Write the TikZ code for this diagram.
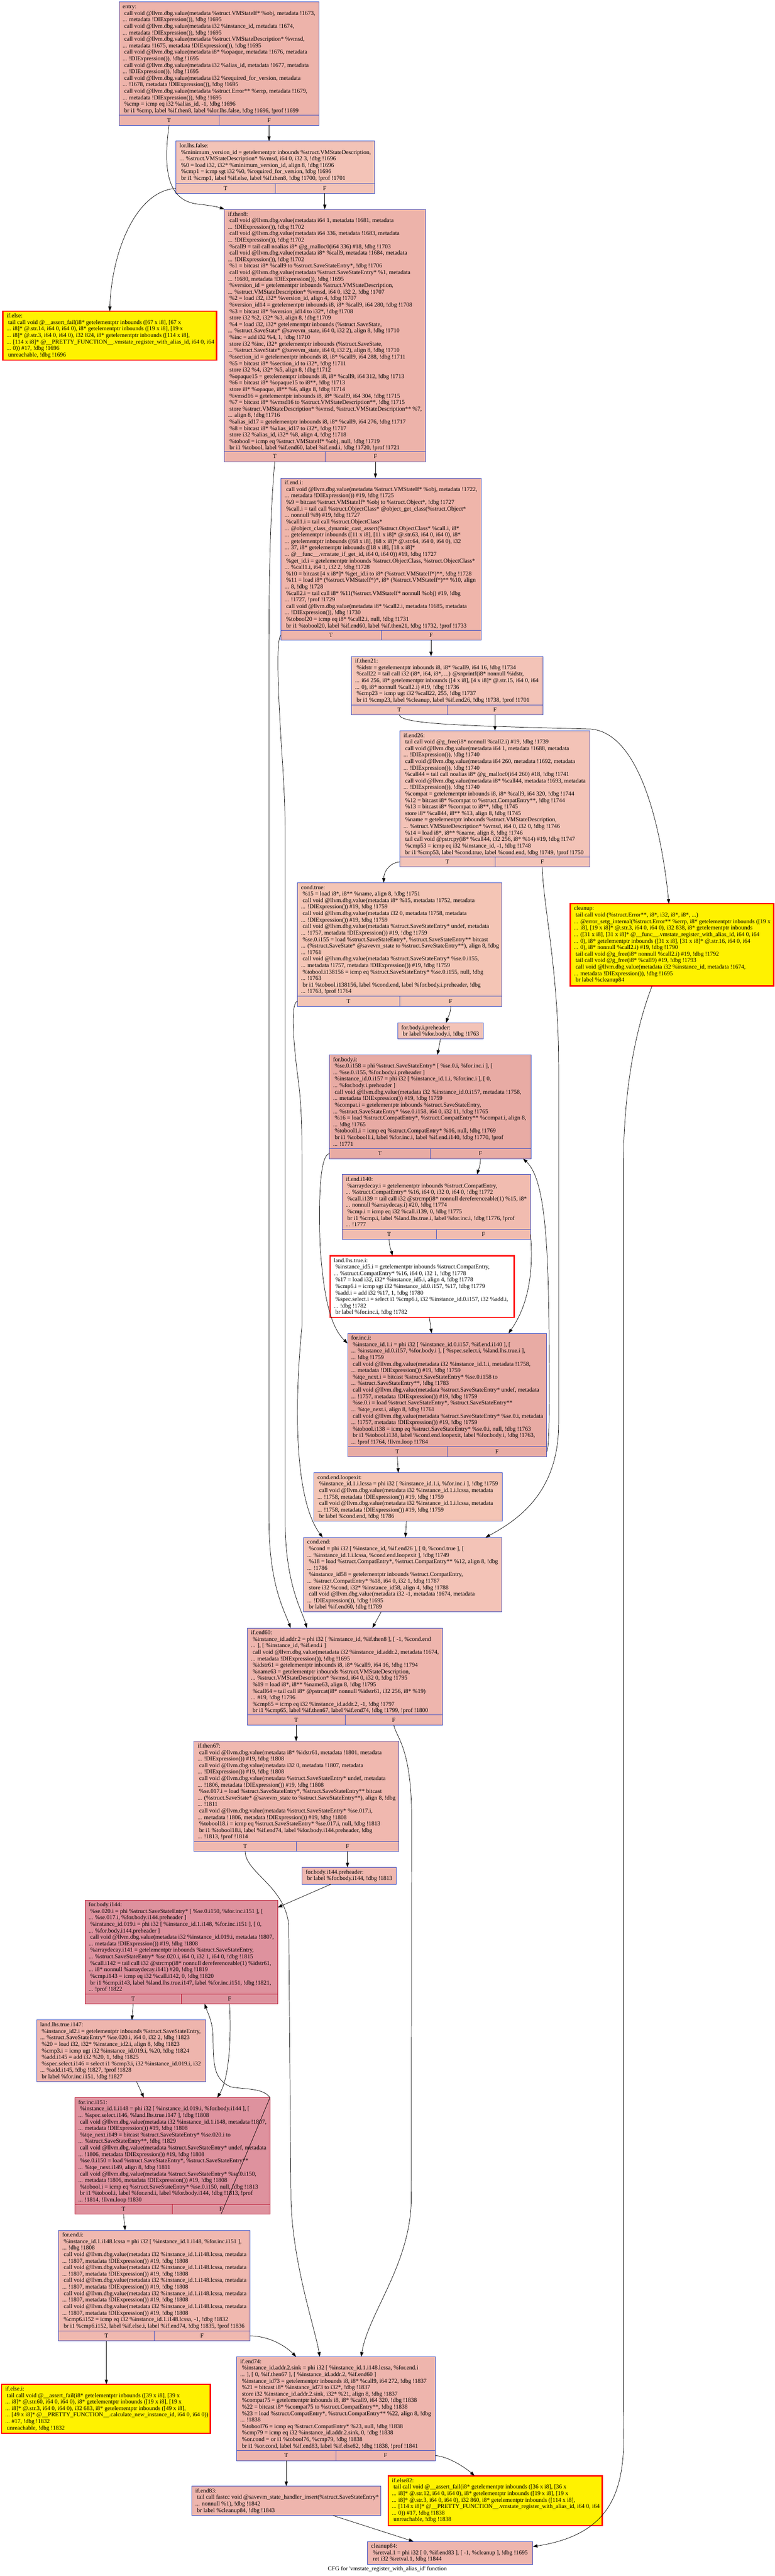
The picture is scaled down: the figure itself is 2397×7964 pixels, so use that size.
\documentclass[tikz,border=0pt]{standalone}
\usepackage{fontspec}
\newfontfamily\gvfont{Liberation Serif}
\usetikzlibrary{arrows.meta,calc}
\definecolor{bcol}{HTML}{3D50C3}
\definecolor{hcol}{HTML}{B70D28}
\definecolor{fEntry}{HTML}{EDB3AA}
\definecolor{fLor}{HTML}{F3C3B7}
\definecolor{fEndi}{HTML}{EFB5AA}
\definecolor{fCT}{HTML}{F4C5B5}
\definecolor{fLoop}{HTML}{E8ABA4}
\definecolor{fIa}{HTML}{F1BCB0}
\definecolor{fSix}{HTML}{EEB5AD}
\definecolor{fSev}{HTML}{F0B8AF}
\definecolor{fHot}{HTML}{DE929E}
\newcommand\gi{\hspace*{3pt}}
\tikzset{
  txt/.style={inner sep=0pt, align=left, font=\gvfont\fontsize{11pt}{12.05pt}\selectfont},
  bb/.style={draw=bcol, line width=0.7pt},
  hot/.style={draw=hcol, line width=0.7pt},
  warn/.style={draw=red, line width=2.4pt},
  cfe/.style={draw=black, line width=0.7pt, -{Triangle[length=8.5pt,width=6pt]}},
}
\newcommand\blk[8]{%
  \node[#6, anchor=north west, minimum width={(#4-#2)*0.6pt}, minimum height={(#5-#3)*0.6pt}, inner sep=0pt, outer sep=0pt] (#1) at (#2,#3) {};
  \node[txt, anchor=north west] (#1-x) at (#2+11,#3+6) {\strut#8};
  \ifnum#7=1
    \draw[#6,fill=none] (#2,#5-31) -- (#4,#5-31) ({(#2+#4)/2},#5-31) -- ({(#2+#4)/2},#5);
    \node[txt] (#1-T) at ({(3*#2+#4)/4},#5-15.5) {T};
    \node[txt] (#1-F) at ({(#2+3*#4)/4},#5-15.5) {F};
    \coordinate (#1-t) at ({(3*#2+#4)/4},#5);
    \coordinate (#1-f) at ({(#2+3*#4)/4},#5);
  \fi
}
\begin{document}
\begin{tikzpicture}[x=0.6pt,y=-0.6pt]
\useasboundingbox (0,0) rectangle (2397,7964);
\fill[white] (0,0) rectangle (2397,7964);

\blk{entry}{368}{6}{987}{387}{bb,fill=fEntry}{1}{entry:\\
\gi call void @llvm.dbg.value(metadata \%struct.VMStateIf* \%obj, metadata !1673,\\
... metadata !DIExpression()), !dbg !1695\\
\gi call void @llvm.dbg.value(metadata i32 \%instance\_id, metadata !1674,\\
... metadata !DIExpression()), !dbg !1695\\
\gi call void @llvm.dbg.value(metadata \%struct.VMStateDescription* \%vmsd,\\
... metadata !1675, metadata !DIExpression()), !dbg !1695\\
\gi call void @llvm.dbg.value(metadata i8* \%opaque, metadata !1676, metadata\\
... !DIExpression()), !dbg !1695\\
\gi call void @llvm.dbg.value(metadata i32 \%alias\_id, metadata !1677, metadata\\
... !DIExpression()), !dbg !1695\\
\gi call void @llvm.dbg.value(metadata i32 \%required\_for\_version, metadata\\
... !1678, metadata !DIExpression()), !dbg !1695\\
\gi call void @llvm.dbg.value(metadata \%struct.Error** \%errp, metadata !1679,\\
... metadata !DIExpression()), !dbg !1695\\
\gi \%cmp = icmp eq i32 \%alias\_id, -1, !dbg !1696\\
\gi br i1 \%cmp, label \%if.then8, label \%lor.lhs.false, !dbg !1696, !prof !1699}

\blk{lor}{544}{436}{1158}{598}{bb,fill=fLor}{1}{lor.lhs.false:\\
\gi \%minimum\_version\_id = getelementptr inbounds \%struct.VMStateDescription,\\
... \%struct.VMStateDescription* \%vmsd, i64 0, i32 3, !dbg !1696\\
\gi \%0 = load i32, i32* \%minimum\_version\_id, align 8, !dbg !1696\\
\gi \%cmp1 = icmp sgt i32 \%0, \%required\_for\_version, !dbg !1696\\
\gi br i1 \%cmp1, label \%if.else, label \%if.then8, !dbg !1700, !prof !1701}

\blk{ifelse}{9}{962}{670}{1113}{warn,fill=yellow}{0}{if.else:\\
\gi tail call void @\_\_assert\_fail(i8* getelementptr inbounds ([67 x i8], [67 x\\
... i8]* @.str.14, i64 0, i64 0), i8* getelementptr inbounds ([19 x i8], [19 x\\
... i8]* @.str.3, i64 0, i64 0), i32 824, i8* getelementptr inbounds ([114 x i8],\\
... [114 x i8]* @\_\_PRETTY\_FUNCTION\_\_.vmstate\_register\_with\_alias\_id, i64 0, i64\\
... 0)) \#17, !dbg !1696\\
\gi unreachable, !dbg !1696}

\blk{ifthen8}{694}{647}{1317}{1427}{bb,fill=fEntry}{1}{if.then8:\\
\gi call void @llvm.dbg.value(metadata i64 1, metadata !1681, metadata\\
... !DIExpression()), !dbg !1702\\
\gi call void @llvm.dbg.value(metadata i64 336, metadata !1683, metadata\\
... !DIExpression()), !dbg !1702\\
\gi \%call9 = tail call noalias i8* @g\_malloc0(i64 336) \#18, !dbg !1703\\
\gi call void @llvm.dbg.value(metadata i8* \%call9, metadata !1684, metadata\\
... !DIExpression()), !dbg !1702\\
\gi \%1 = bitcast i8* \%call9 to \%struct.SaveStateEntry*, !dbg !1706\\
\gi call void @llvm.dbg.value(metadata \%struct.SaveStateEntry* \%1, metadata\\
... !1680, metadata !DIExpression()), !dbg !1695\\
\gi \%version\_id = getelementptr inbounds \%struct.VMStateDescription,\\
... \%struct.VMStateDescription* \%vmsd, i64 0, i32 2, !dbg !1707\\
\gi \%2 = load i32, i32* \%version\_id, align 4, !dbg !1707\\
\gi \%version\_id14 = getelementptr inbounds i8, i8* \%call9, i64 280, !dbg !1708\\
\gi \%3 = bitcast i8* \%version\_id14 to i32*, !dbg !1708\\
\gi store i32 \%2, i32* \%3, align 8, !dbg !1709\\
\gi \%4 = load i32, i32* getelementptr inbounds (\%struct.SaveState,\\
... \%struct.SaveState* @savevm\_state, i64 0, i32 2), align 8, !dbg !1710\\
\gi \%inc = add i32 \%4, 1, !dbg !1710\\
\gi store i32 \%inc, i32* getelementptr inbounds (\%struct.SaveState,\\
... \%struct.SaveState* @savevm\_state, i64 0, i32 2), align 8, !dbg !1710\\
\gi \%section\_id = getelementptr inbounds i8, i8* \%call9, i64 288, !dbg !1711\\
\gi \%5 = bitcast i8* \%section\_id to i32*, !dbg !1711\\
\gi store i32 \%4, i32* \%5, align 8, !dbg !1712\\
\gi \%opaque15 = getelementptr inbounds i8, i8* \%call9, i64 312, !dbg !1713\\
\gi \%6 = bitcast i8* \%opaque15 to i8**, !dbg !1713\\
\gi store i8* \%opaque, i8** \%6, align 8, !dbg !1714\\
\gi \%vmsd16 = getelementptr inbounds i8, i8* \%call9, i64 304, !dbg !1715\\
\gi \%7 = bitcast i8* \%vmsd16 to \%struct.VMStateDescription**, !dbg !1715\\
\gi store \%struct.VMStateDescription* \%vmsd, \%struct.VMStateDescription** \%7,\\
... align 8, !dbg !1716\\
\gi \%alias\_id17 = getelementptr inbounds i8, i8* \%call9, i64 276, !dbg !1717\\
\gi \%8 = bitcast i8* \%alias\_id17 to i32*, !dbg !1717\\
\gi store i32 \%alias\_id, i32* \%8, align 4, !dbg !1718\\
\gi \%tobool = icmp eq \%struct.VMStateIf* \%obj, null, !dbg !1719\\
\gi br i1 \%tobool, label \%if.end60, label \%if.end.i, !dbg !1720, !prof !1721}

\blk{ifendi}{869}{1478}{1488}{1979}{bb,fill=fEndi}{1}{if.end.i:\\
\gi call void @llvm.dbg.value(metadata \%struct.VMStateIf* \%obj, metadata !1722,\\
... metadata !DIExpression()) \#19, !dbg !1725\\
\gi \%9 = bitcast \%struct.VMStateIf* \%obj to \%struct.Object*, !dbg !1727\\
\gi \%call.i = tail call \%struct.ObjectClass* @object\_get\_class(\%struct.Object*\\
... nonnull \%9) \#19, !dbg !1727\\
\gi \%call1.i = tail call \%struct.ObjectClass*\\
... @object\_class\_dynamic\_cast\_assert(\%struct.ObjectClass* \%call.i, i8*\\
... getelementptr inbounds ([11 x i8], [11 x i8]* @.str.63, i64 0, i64 0), i8*\\
... getelementptr inbounds ([68 x i8], [68 x i8]* @.str.64, i64 0, i64 0), i32\\
... 37, i8* getelementptr inbounds ([18 x i8], [18 x i8]*\\
... @\_\_func\_\_.vmstate\_if\_get\_id, i64 0, i64 0)) \#19, !dbg !1727\\
\gi \%get\_id.i = getelementptr inbounds \%struct.ObjectClass, \%struct.ObjectClass*\\
... \%call1.i, i64 1, i32 2, !dbg !1728\\
\gi \%10 = bitcast [4 x i8*]* \%get\_id.i to i8* (\%struct.VMStateIf*)**, !dbg !1728\\
\gi \%11 = load i8* (\%struct.VMStateIf*)*, i8* (\%struct.VMStateIf*)** \%10, align\\
... 8, !dbg !1728\\
\gi \%call2.i = tail call i8* \%11(\%struct.VMStateIf* nonnull \%obj) \#19, !dbg\\
... !1727, !prof !1729\\
\gi call void @llvm.dbg.value(metadata i8* \%call2.i, metadata !1685, metadata\\
... !DIExpression()), !dbg !1730\\
\gi \%tobool20 = icmp eq i8* \%call2.i, null, !dbg !1731\\
\gi br i1 \%tobool20, label \%if.end60, label \%if.then21, !dbg !1732, !prof !1733}

\blk{ifthen21}{1087}{2029}{1679}{2210}{bb,fill=fLor}{1}{if.then21:\\
\gi \%idstr = getelementptr inbounds i8, i8* \%call9, i64 16, !dbg !1734\\
\gi \%call22 = tail call i32 (i8*, i64, i8*, ...) @snprintf(i8* nonnull \%idstr,\\
... i64 256, i8* getelementptr inbounds ([4 x i8], [4 x i8]* @.str.15, i64 0, i64\\
... 0), i8* nonnull \%call2.i) \#19, !dbg !1736\\
\gi \%cmp23 = icmp ugt i32 \%call22, 255, !dbg !1737\\
\gi br i1 \%cmp23, label \%cleanup, label \%if.end26, !dbg !1738, !prof !1701}

\blk{ifend26}{1237}{2259}{1824}{2680}{bb,fill=fLor}{1}{if.end26:\\
\gi tail call void @g\_free(i8* nonnull \%call2.i) \#19, !dbg !1739\\
\gi call void @llvm.dbg.value(metadata i64 1, metadata !1688, metadata\\
... !DIExpression()), !dbg !1740\\
\gi call void @llvm.dbg.value(metadata i64 260, metadata !1692, metadata\\
... !DIExpression()), !dbg !1740\\
\gi \%call44 = tail call noalias i8* @g\_malloc0(i64 260) \#18, !dbg !1741\\
\gi call void @llvm.dbg.value(metadata i8* \%call44, metadata !1693, metadata\\
... !DIExpression()), !dbg !1740\\
\gi \%compat = getelementptr inbounds i8, i8* \%call9, i64 320, !dbg !1744\\
\gi \%12 = bitcast i8* \%compat to \%struct.CompatEntry**, !dbg !1744\\
\gi \%13 = bitcast i8* \%compat to i8**, !dbg !1745\\
\gi store i8* \%call44, i8** \%13, align 8, !dbg !1745\\
\gi \%name = getelementptr inbounds \%struct.VMStateDescription,\\
... \%struct.VMStateDescription* \%vmsd, i64 0, i32 0, !dbg !1746\\
\gi \%14 = load i8*, i8** \%name, align 8, !dbg !1746\\
\gi tail call void @pstrcpy(i8* \%call44, i32 256, i8* \%14) \#19, !dbg !1747\\
\gi \%cmp53 = icmp eq i32 \%instance\_id, -1, !dbg !1748\\
\gi br i1 \%cmp53, label \%cond.true, label \%cond.end, !dbg !1749, !prof !1750}

\blk{cleanup}{1764}{2794}{2393}{3048}{warn,fill=yellow}{0}{cleanup:\\
\gi tail call void (\%struct.Error**, i8*, i32, i8*, i8*, ...)\\
... @error\_setg\_internal(\%struct.Error** \%errp, i8* getelementptr inbounds ([19 x\\
... i8], [19 x i8]* @.str.3, i64 0, i64 0), i32 838, i8* getelementptr inbounds\\
... ([31 x i8], [31 x i8]* @\_\_func\_\_.vmstate\_register\_with\_alias\_id, i64 0, i64\\
... 0), i8* getelementptr inbounds ([31 x i8], [31 x i8]* @.str.16, i64 0, i64\\
... 0), i8* nonnull \%call2.i) \#19, !dbg !1790\\
\gi tail call void @g\_free(i8* nonnull \%call2.i) \#19, !dbg !1792\\
\gi tail call void @g\_free(i8* \%call9) \#19, !dbg !1793\\
\gi call void @llvm.dbg.value(metadata i32 \%instance\_id, metadata !1674,\\
... metadata !DIExpression()), !dbg !1695\\
\gi br label \%cleanup84}

\blk{condtrue}{920}{2729}{1552}{3111}{bb,fill=fCT}{1}{cond.true:\\
\gi \%15 = load i8*, i8** \%name, align 8, !dbg !1751\\
\gi call void @llvm.dbg.value(metadata i8* \%15, metadata !1752, metadata\\
... !DIExpression()) \#19, !dbg !1759\\
\gi call void @llvm.dbg.value(metadata i32 0, metadata !1758, metadata\\
... !DIExpression()) \#19, !dbg !1759\\
\gi call void @llvm.dbg.value(metadata \%struct.SaveStateEntry* undef, metadata\\
... !1757, metadata !DIExpression()) \#19, !dbg !1759\\
\gi \%se.0.i155 = load \%struct.SaveStateEntry*, \%struct.SaveStateEntry** bitcast\\
... (\%struct.SaveState* @savevm\_state to \%struct.SaveStateEntry**), align 8, !dbg\\
... !1761\\
\gi call void @llvm.dbg.value(metadata \%struct.SaveStateEntry* \%se.0.i155,\\
... metadata !1757, metadata !DIExpression()) \#19, !dbg !1759\\
\gi \%tobool.i138156 = icmp eq \%struct.SaveStateEntry* \%se.0.i155, null, !dbg\\
... !1763\\
\gi br i1 \%tobool.i138156, label \%cond.end, label \%for.body.i.preheader, !dbg\\
... !1763, !prof !1764}

\blk{fbipre}{1230}{3162}{1495}{3212}{bb,fill=fLor}{0}{for.body.i.preheader:\\
\gi br label \%for.body.i, !dbg !1763}

\blk{forbodyi}{1019}{3261}{1642}{3582}{bb,fill=fLoop}{1}{for.body.i:\\
\gi \%se.0.i158 = phi \%struct.SaveStateEntry* [ \%se.0.i, \%for.inc.i ], [\\
... \%se.0.i155, \%for.body.i.preheader ]\\
\gi \%instance\_id.0.i157 = phi i32 [ \%instance\_id.1.i, \%for.inc.i ], [ 0,\\
... \%for.body.i.preheader ]\\
\gi call void @llvm.dbg.value(metadata i32 \%instance\_id.0.i157, metadata !1758,\\
... metadata !DIExpression()) \#19, !dbg !1759\\
\gi \%compat.i = getelementptr inbounds \%struct.SaveStateEntry,\\
... \%struct.SaveStateEntry* \%se.0.i158, i64 0, i32 11, !dbg !1765\\
\gi \%16 = load \%struct.CompatEntry*, \%struct.CompatEntry** \%compat.i, align 8,\\
... !dbg !1765\\
\gi \%tobool1.i = icmp eq \%struct.CompatEntry* \%16, null, !dbg !1769\\
\gi br i1 \%tobool1.i, label \%for.inc.i, label \%if.end.i140, !dbg !1770, !prof\\
... !1771}

\blk{ifendi140}{1058}{3631}{1641}{3832}{bb,fill=fIa}{1}{if.end.i140:\\
\gi \%arraydecay.i = getelementptr inbounds \%struct.CompatEntry,\\
... \%struct.CompatEntry* \%16, i64 0, i32 0, i64 0, !dbg !1772\\
\gi \%call.i139 = tail call i32 @strcmp(i8* nonnull dereferenceable(1) \%15, i8*\\
... nonnull \%arraydecay.i) \#20, !dbg !1774\\
\gi \%cmp.i = icmp eq i32 \%call.i139, 0, !dbg !1775\\
\gi br i1 \%cmp.i, label \%land.lhs.true.i, label \%for.inc.i, !dbg !1776, !prof\\
... !1777}

\blk{landi}{1021}{3882}{1590}{4073}{warn,fill=white}{0}{land.lhs.true.i:\\
\gi \%instance\_id5.i = getelementptr inbounds \%struct.CompatEntry,\\
... \%struct.CompatEntry* \%16, i64 0, i32 1, !dbg !1778\\
\gi \%17 = load i32, i32* \%instance\_id5.i, align 4, !dbg !1778\\
\gi \%cmp6.i = icmp sgt i32 \%instance\_id.0.i157, \%17, !dbg !1779\\
\gi \%add.i = add i32 \%17, 1, !dbg !1780\\
\gi \%spec.select.i = select i1 \%cmp6.i, i32 \%instance\_id.0.i157, i32 \%add.i,\\
... !dbg !1782\\
\gi br label \%for.inc.i, !dbg !1782}

\blk{forinci}{1075}{4122}{1691}{4503}{bb,fill=fLoop}{1}{for.inc.i:\\
\gi \%instance\_id.1.i = phi i32 [ \%instance\_id.0.i157, \%if.end.i140 ], [\\
... \%instance\_id.0.i157, \%for.body.i ], [ \%spec.select.i, \%land.lhs.true.i ],\\
... !dbg !1759\\
\gi call void @llvm.dbg.value(metadata i32 \%instance\_id.1.i, metadata !1758,\\
... metadata !DIExpression()) \#19, !dbg !1759\\
\gi \%tqe\_next.i = bitcast \%struct.SaveStateEntry* \%se.0.i158 to\\
... \%struct.SaveStateEntry**, !dbg !1783\\
\gi call void @llvm.dbg.value(metadata \%struct.SaveStateEntry* undef, metadata\\
... !1757, metadata !DIExpression()) \#19, !dbg !1759\\
\gi \%se.0.i = load \%struct.SaveStateEntry*, \%struct.SaveStateEntry**\\
... \%tqe\_next.i, align 8, !dbg !1761\\
\gi call void @llvm.dbg.value(metadata \%struct.SaveStateEntry* \%se.0.i, metadata\\
... !1757, metadata !DIExpression()) \#19, !dbg !1759\\
\gi \%tobool.i138 = icmp eq \%struct.SaveStateEntry* \%se.0.i, null, !dbg !1763\\
\gi br i1 \%tobool.i138, label \%cond.end.loopexit, label \%for.body.i, !dbg !1763,\\
... !prof !1764, !llvm.loop !1784}

\blk{celoop}{971}{4553}{1554}{4703}{bb,fill=fCT}{0}{cond.end.loopexit:\\
\gi \%instance\_id.1.i.lcssa = phi i32 [ \%instance\_id.1.i, \%for.inc.i ], !dbg !1759\\
\gi call void @llvm.dbg.value(metadata i32 \%instance\_id.1.i.lcssa, metadata\\
... !1758, metadata !DIExpression()) \#19, !dbg !1759\\
\gi call void @llvm.dbg.value(metadata i32 \%instance\_id.1.i.lcssa, metadata\\
... !1758, metadata !DIExpression()) \#19, !dbg !1759\\
\gi br label \%cond.end, !dbg !1786}

\blk{condend}{939}{4753}{1552}{4983}{bb,fill=fLor}{0}{cond.end:\\
\gi \%cond = phi i32 [ \%instance\_id, \%if.end26 ], [ 0, \%cond.true ], [\\
... \%instance\_id.1.i.lcssa, \%cond.end.loopexit ], !dbg !1749\\
\gi \%18 = load \%struct.CompatEntry*, \%struct.CompatEntry** \%12, align 8, !dbg\\
... !1786\\
\gi \%instance\_id58 = getelementptr inbounds \%struct.CompatEntry,\\
... \%struct.CompatEntry* \%18, i64 0, i32 1, !dbg !1787\\
\gi store i32 \%cond, i32* \%instance\_id58, align 4, !dbg !1788\\
\gi call void @llvm.dbg.value(metadata i32 -1, metadata !1674, metadata\\
... !DIExpression()), !dbg !1695\\
\gi br label \%if.end60, !dbg !1789}

\blk{ifend60}{765}{5033}{1369}{5333}{bb,fill=fSix}{1}{if.end60:\\
\gi \%instance\_id.addr.2 = phi i32 [ \%instance\_id, \%if.then8 ], [ -1, \%cond.end\\
... ], [ \%instance\_id, \%if.end.i ]\\
\gi call void @llvm.dbg.value(metadata i32 \%instance\_id.addr.2, metadata !1674,\\
... metadata !DIExpression()), !dbg !1695\\
\gi \%idstr61 = getelementptr inbounds i8, i8* \%call9, i64 16, !dbg !1794\\
\gi \%name63 = getelementptr inbounds \%struct.VMStateDescription,\\
... \%struct.VMStateDescription* \%vmsd, i64 0, i32 0, !dbg !1795\\
\gi \%19 = load i8*, i8** \%name63, align 8, !dbg !1795\\
\gi \%call64 = tail call i8* @pstrcat(i8* nonnull \%idstr61, i32 256, i8* \%19)\\
... \#19, !dbg !1796\\
\gi \%cmp65 = icmp eq i32 \%instance\_id.addr.2, -1, !dbg !1797\\
\gi br i1 \%cmp65, label \%if.then67, label \%if.end74, !dbg !1799, !prof !1800}

\blk{ifthen67}{600}{5383}{1233}{5724}{bb,fill=fSev}{1}{if.then67:\\
\gi call void @llvm.dbg.value(metadata i8* \%idstr61, metadata !1801, metadata\\
... !DIExpression()) \#19, !dbg !1808\\
\gi call void @llvm.dbg.value(metadata i32 0, metadata !1807, metadata\\
... !DIExpression()) \#19, !dbg !1808\\
\gi call void @llvm.dbg.value(metadata \%struct.SaveStateEntry* undef, metadata\\
... !1806, metadata !DIExpression()) \#19, !dbg !1808\\
\gi \%se.017.i = load \%struct.SaveStateEntry*, \%struct.SaveStateEntry** bitcast\\
... (\%struct.SaveState* @savevm\_state to \%struct.SaveStateEntry**), align 8, !dbg\\
... !1811\\
\gi call void @llvm.dbg.value(metadata \%struct.SaveStateEntry* \%se.017.i,\\
... metadata !1806, metadata !DIExpression()) \#19, !dbg !1808\\
\gi \%tobool18.i = icmp eq \%struct.SaveStateEntry* \%se.017.i, null, !dbg !1813\\
\gi br i1 \%tobool18.i, label \%if.end74, label \%for.body.i144.preheader, !dbg\\
... !1813, !prof !1814}

\blk{fbipreb}{934}{5773}{1226}{5825}{bb,fill=fSev}{0}{for.body.i144.preheader:\\
\gi br label \%for.body.i144, !dbg !1813}

\blk{forbodyb}{263}{5874}{859}{6195}{hot,fill=fHot}{1}{for.body.i144:\\
\gi \%se.020.i = phi \%struct.SaveStateEntry* [ \%se.0.i150, \%for.inc.i151 ], [\\
... \%se.017.i, \%for.body.i144.preheader ]\\
\gi \%instance\_id.019.i = phi i32 [ \%instance\_id.1.i148, \%for.inc.i151 ], [ 0,\\
... \%for.body.i144.preheader ]\\
\gi call void @llvm.dbg.value(metadata i32 \%instance\_id.019.i, metadata !1807,\\
... metadata !DIExpression()) \#19, !dbg !1808\\
\gi \%arraydecay.i141 = getelementptr inbounds \%struct.SaveStateEntry,\\
... \%struct.SaveStateEntry* \%se.020.i, i64 0, i32 1, i64 0, !dbg !1815\\
\gi \%call.i142 = tail call i32 @strcmp(i8* nonnull dereferenceable(1) \%idstr61,\\
... i8* nonnull \%arraydecay.i141) \#20, !dbg !1819\\
\gi \%cmp.i143 = icmp eq i32 \%call.i142, 0, !dbg !1820\\
\gi br i1 \%cmp.i143, label \%land.lhs.true.i147, label \%for.inc.i151, !dbg !1821,\\
... !prof !1822}

\blk{landb}{113}{6245}{636}{6435}{bb,fill=fSix}{0}{land.lhs.true.i147:\\
\gi \%instance\_id2.i = getelementptr inbounds \%struct.SaveStateEntry,\\
... \%struct.SaveStateEntry* \%se.020.i, i64 0, i32 2, !dbg !1823\\
\gi \%20 = load i32, i32* \%instance\_id2.i, align 8, !dbg !1823\\
\gi \%cmp3.i = icmp ugt i32 \%instance\_id.019.i, \%20, !dbg !1824\\
\gi \%add.i145 = add i32 \%20, 1, !dbg !1825\\
\gi \%spec.select.i146 = select i1 \%cmp3.i, i32 \%instance\_id.019.i, i32\\
... \%add.i145, !dbg !1827, !prof !1828\\
\gi br label \%for.inc.i151, !dbg !1827}

\blk{forincb}{231}{6485}{835}{6845}{hot,fill=fHot}{1}{for.inc.i151:\\
\gi \%instance\_id.1.i148 = phi i32 [ \%instance\_id.019.i, \%for.body.i144 ], [\\
... \%spec.select.i146, \%land.lhs.true.i147 ], !dbg !1808\\
\gi call void @llvm.dbg.value(metadata i32 \%instance\_id.1.i148, metadata !1807,\\
... metadata !DIExpression()) \#19, !dbg !1808\\
\gi \%tqe\_next.i149 = bitcast \%struct.SaveStateEntry* \%se.020.i to\\
... \%struct.SaveStateEntry**, !dbg !1829\\
\gi call void @llvm.dbg.value(metadata \%struct.SaveStateEntry* undef, metadata\\
... !1806, metadata !DIExpression()) \#19, !dbg !1808\\
\gi \%se.0.i150 = load \%struct.SaveStateEntry*, \%struct.SaveStateEntry**\\
... \%tqe\_next.i149, align 8, !dbg !1811\\
\gi call void @llvm.dbg.value(metadata \%struct.SaveStateEntry* \%se.0.i150,\\
... metadata !1806, metadata !DIExpression()) \#19, !dbg !1808\\
\gi \%tobool.i = icmp eq \%struct.SaveStateEntry* \%se.0.i150, null, !dbg !1813\\
\gi br i1 \%tobool.i, label \%for.end.i, label \%for.body.i144, !dbg !1813, !prof\\
... !1814, !llvm.loop !1830}

\blk{forendi}{181}{6895}{773}{7237}{bb,fill=fSev}{1}{for.end.i:\\
\gi \%instance\_id.1.i148.lcssa = phi i32 [ \%instance\_id.1.i148, \%for.inc.i151 ],\\
... !dbg !1808\\
\gi call void @llvm.dbg.value(metadata i32 \%instance\_id.1.i148.lcssa, metadata\\
... !1807, metadata !DIExpression()) \#19, !dbg !1808\\
\gi call void @llvm.dbg.value(metadata i32 \%instance\_id.1.i148.lcssa, metadata\\
... !1807, metadata !DIExpression()) \#19, !dbg !1808\\
\gi call void @llvm.dbg.value(metadata i32 \%instance\_id.1.i148.lcssa, metadata\\
... !1807, metadata !DIExpression()) \#19, !dbg !1808\\
\gi call void @llvm.dbg.value(metadata i32 \%instance\_id.1.i148.lcssa, metadata\\
... !1807, metadata !DIExpression()) \#19, !dbg !1808\\
\gi call void @llvm.dbg.value(metadata i32 \%instance\_id.1.i148.lcssa, metadata\\
... !1807, metadata !DIExpression()) \#19, !dbg !1808\\
\gi \%cmp6.i152 = icmp eq i32 \%instance\_id.1.i148.lcssa, -1, !dbg !1832\\
\gi br i1 \%cmp6.i152, label \%if.else.i, label \%if.end74, !dbg !1835, !prof !1836}

\blk{ifelsei}{5}{7371}{651}{7523}{warn,fill=yellow}{0}{if.else.i:\\
\gi tail call void @\_\_assert\_fail(i8* getelementptr inbounds ([39 x i8], [39 x\\
... i8]* @.str.60, i64 0, i64 0), i8* getelementptr inbounds ([19 x i8], [19 x\\
... i8]* @.str.3, i64 0, i64 0), i32 683, i8* getelementptr inbounds ([49 x i8],\\
... [49 x i8]* @\_\_PRETTY\_FUNCTION\_\_.calculate\_new\_instance\_id, i64 0, i64 0))\\
... \#17, !dbg !1832\\
\gi unreachable, !dbg !1832}

\blk{ifend74}{732}{7286}{1346}{7607}{bb,fill=fSix}{1}{if.end74:\\
\gi \%instance\_id.addr.2.sink = phi i32 [ \%instance\_id.1.i148.lcssa, \%for.end.i\\
... ], [ 0, \%if.then67 ], [ \%instance\_id.addr.2, \%if.end60 ]\\
\gi \%instance\_id73 = getelementptr inbounds i8, i8* \%call9, i64 272, !dbg !1837\\
\gi \%21 = bitcast i8* \%instance\_id73 to i32*, !dbg !1837\\
\gi store i32 \%instance\_id.addr.2.sink, i32* \%21, align 8, !dbg !1837\\
\gi \%compat75 = getelementptr inbounds i8, i8* \%call9, i64 320, !dbg !1838\\
\gi \%22 = bitcast i8* \%compat75 to \%struct.CompatEntry**, !dbg !1838\\
\gi \%23 = load \%struct.CompatEntry*, \%struct.CompatEntry** \%22, align 8, !dbg\\
... !1838\\
\gi \%tobool76 = icmp eq \%struct.CompatEntry* \%23, null, !dbg !1838\\
\gi \%cmp79 = icmp eq i32 \%instance\_id.addr.2.sink, 0, !dbg !1838\\
\gi \%or.cond = or i1 \%tobool76, \%cmp79, !dbg !1838\\
\gi br i1 \%or.cond, label \%if.end83, label \%if.else82, !dbg !1838, !prof !1841}

\blk{ifend83}{593}{7686}{1177}{7777}{bb,fill=fSix}{0}{if.end83:\\
\gi tail call fastcc void @savevm\_state\_handler\_insert(\%struct.SaveStateEntry*\\
... nonnull \%1), !dbg !1842\\
\gi br label \%cleanup84, !dbg !1843}

\blk{ifelse82}{1201}{7654}{1863}{7808}{warn,fill=yellow}{0}{if.else82:\\
\gi tail call void @\_\_assert\_fail(i8* getelementptr inbounds ([36 x i8], [36 x\\
... i8]* @.str.12, i64 0, i64 0), i8* getelementptr inbounds ([19 x i8], [19 x\\
... i8]* @.str.3, i64 0, i64 0), i32 860, i8* getelementptr inbounds ([114 x i8],\\
... [114 x i8]* @\_\_PRETTY\_FUNCTION\_\_.vmstate\_register\_with\_alias\_id, i64 0, i64\\
... 0)) \#17, !dbg !1838\\
\gi unreachable, !dbg !1838}

\blk{cleanupb}{1137}{7857}{1648}{7928}{bb,fill=fSix}{0}{cleanup84:\\
\gi \%retval.1 = phi i32 [ 0, \%if.end83 ], [ -1, \%cleanup ], !dbg !1695\\
\gi ret i32 \%retval.1, !dbg !1844}

\node[txt] (cap) at (1198,7943) {CFG for 'vmstate\_register\_with\_alias\_id' function};

% edges
\draw[cfe] (entry-t) .. controls (505,520) and (515,620) .. (612,631) .. controls (650,635) and (675,640) .. (ifthen8.north west);
\draw[cfe] (entry-f) -- (entry-f |- lor.north);
\draw[cfe] (lor-T -| lor.west) .. controls (420,590) and (345,780) .. (ifelse.north);
\draw[cfe] (lor-f) -- (lor-f |- ifthen8.north);
\draw[cfe] (ifthen8-t) .. controls (835,1600) and (832,1800) .. (832,2000) -- (832,4700) .. controls (832,4900) and (880,4980) .. ($(ifend60.north west)+(134,0)$);
\draw[cfe] (ifthen8-f) -- (ifthen8-f |- ifendi.north);
\draw[cfe] (ifendi-T -| ifendi.west) .. controls (855,1975) and (858,2100) .. (870,2300) .. controls (880,2450) and (882,2500) .. (882,2600) -- (882,4700) .. controls (882,4900) and (935,4980) .. ($(ifend60.north west)+(184,0)$);
\draw[cfe] (ifendi-f) -- (ifendi-f |- ifthen21.north);
\draw[cfe] (ifthen21-t) .. controls (1240,2240) and (1450,2244) .. (1829,2254) .. controls (1990,2270) and (2050,2600) .. ($(cleanup.north west)+(305,0)$);
\draw[cfe] (ifthen21-f) -- (ifthen21-f |- ifend26.north);
\draw[cfe] (ifend26-T -| ifend26.west) .. controls (1200,2668) and (1187,2700) .. ($(condtrue.north west)+(267,0)$);
\draw[cfe] (ifend26-f) .. controls (1680,2800) and (1728,3000) .. (1728,3300) -- (1728,4400) .. controls (1728,4600) and (1620,4690) .. ($(condend.north west)+(563,0)$);
\draw[cfe] (condtrue-T -| condtrue.west) .. controls (900,3100) and (905,3200) .. (920,3320) .. controls (934,3420) and (934,3500) .. (934,3600) -- (934,4100) .. controls (905,4400) and (920,4650) .. ($(condend.north west)+(59,0)$);
\draw[cfe] (condtrue-f) .. controls (1394,3135) and (1385,3145) .. ($(fbipre.north west)+(150,0)$);
\draw[cfe] (fbipre.south) -- ($(forbodyi.north west)+(334,0)$);
\draw[cfe] (forbodyi-T -| forbodyi.west) .. controls (990,3570) and (985,3700) .. (990,3850) .. controls (1000,4000) and (1020,4100) .. ($(forinci.north west)+(0,31)$);
\draw[cfe] (forbodyi-f) .. controls (1486,3605) and (1480,3615) .. ($(ifendi140.north west)+(418,0)$);
\draw[cfe] (ifendi140-t) .. controls (1204,3855) and (1210,3865) .. ($(landi.north west)+(193,0)$);
\draw[cfe] (ifendi140-F -| ifendi140.east) .. controls (1648,3900) and (1645,4020) .. ($(forinci.north west)+(498,0)$);
\draw[cfe] ($(landi.south west)+(307,0)$) -- ($(forinci.north west)+(260,0)$);
\draw[cfe] (forinci-F -| forinci.east) .. controls (1700,4485) and (1700,4300) .. (1698,4100) .. controls (1695,3800) and (1680,3640) .. ($(forbodyi.south west)+(599,0)$);
\draw[cfe] (forinci-t) -- ($(celoop.north west)+(261,0)$);
\draw[cfe] ($(celoop.south west)+(286,0)$) -- ($(condend.north west)+(315,0)$);
\draw[cfe] ($(condend.south west)+(240,0)$) -- ($(ifend60.north west)+(387,0)$);
\draw[cfe] (ifend60-t) -- (ifend60-t |- ifthen67.north);
\draw[cfe] (ifend60-f) .. controls (1225,5370) and (1270,5400) .. (1273,5600) -- (1272,6800) .. controls (1270,7000) and (1140,7150) .. ($(ifend74.north west)+(385,0)$);
\draw[cfe] (ifthen67-t) .. controls (760,5790) and (880,5830) .. (893,5950) -- (900,6800) .. controls (905,7000) and (975,7200) .. ($(ifend74.north west)+(257,0)$);
\draw[cfe] (ifthen67-f) -- (ifthen67-f |- fbipreb.north);
\draw[cfe] ($(fbipreb.south west)+(90,0)$) -- ($(forbodyb.north east)+(0,23)$);
\draw[cfe] (forbodyb-t) -- ($(landb.north west)+(295,0)$);
\draw[cfe] (forbodyb-f) .. controls (715,6280) and (712,6420) .. ($(forincb.north west)+(441,0)$);
\draw[cfe] ($(landb.south west)+(309,0)$) -- ($(forincb.north west)+(214,0)$);
\draw[cfe] (forincb-f) -- (forincb.north east) .. controls (815,6455) and (760,6460) .. (715,6452) .. controls (660,6430) and (660,6380) .. (659,6300) .. controls (658,6250) and (645,6230) .. ($(forbodyb.south west)+(370,0)$);
\draw[cfe] (forincb-t) -- ($(forendi.north west)+(206,0)$);
\draw[cfe] (forendi-t) -- (forendi-t |- ifelsei.north);
\draw[cfe] (forendi-F -| forendi.east) .. controls (830,7222) and (880,7250) .. ($(ifend74.north west)+(184,0)$);
\draw[cfe] (ifend74-t) -- (ifend74-t |- ifend83.north);
\draw[cfe] (ifend74-F -| ifend74.east) .. controls (1390,7595) and (1440,7630) .. ($(ifelse82.north west)+(267,0)$);
\draw[cfe] ($(ifend83.south west)+(437,0)$) -- ($(cleanupb.north west)+(142,0)$);
\draw[cfe] ($(cleanup.south west)+(253,0)$) .. controls (1970,3170) and (1930,3350) .. (1928,3600) -- (1928,7450) .. controls (1935,7650) and (1930,7830) .. ($(cleanupb.north east)+(0,16)$);
\end{tikzpicture}
\end{document}
